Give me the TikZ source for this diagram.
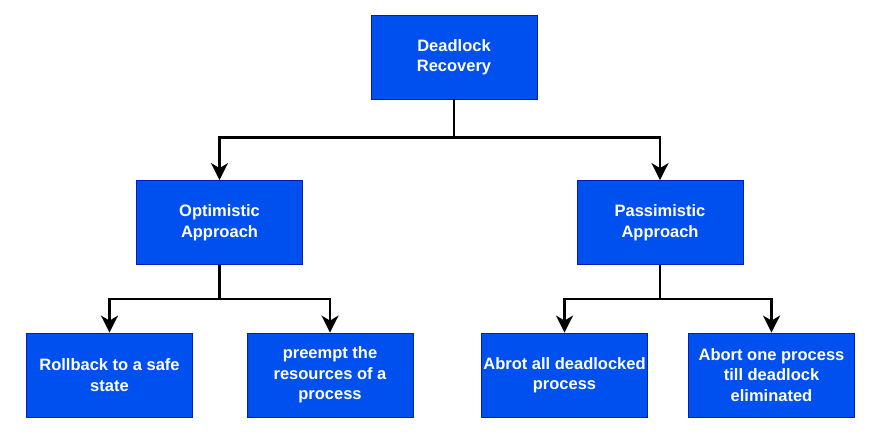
\documentclass[tikz,border=0pt]{standalone}
\usepackage{fontspec}
\setmainfont{Liberation Sans}
\usetikzlibrary{arrows.meta}
\definecolor{boxfill}{HTML}{0050EF}
\definecolor{boxline}{HTML}{001DBC}
\tikzset{
  box/.style={rectangle, draw=boxline, line width=0.8pt, fill=boxfill,
    minimum width=166pt, minimum height=84pt, inner sep=2pt,
    text=white, align=center,
    font=\fontsize{16.5}{20.5}\selectfont\bfseries},
  arr/.style={line width=2.6pt, -{Stealth[length=17pt, width=17pt, inset=5pt]}}
}
\begin{document}
\begin{tikzpicture}[x=1pt, y=-1pt]
\useasboundingbox (0,0) rectangle (890,437);
\node[box] (top) at (454,57) {Deadlock\\Recovery};
\node[box] (ml) at (219.5,222.5) {Optimistic\\Approach};
\node[box] (mr) at (660,222.5) {Passimistic\\Approach};
\node[box] (b1) at (109.5,375) {Rollback to a safe\\state};
\node[box] (b2) at (330,375) {preempt the\\resources of a\\process};
\node[box] (b3) at (564.5,375) {Abrot all deadlocked\\process};
\node[box] (b4) at (771.5,375) {Abort one process\\till deadlock\\eliminated};
\draw[arr] (top.south) -- ++(0,38) -| (ml.north);
\draw[arr] (top.south) -- ++(0,38) -| (mr.north);
\draw[arr] (ml.south) -- ++(0,34) -| (b1.north);
\draw[arr] (ml.south) -- ++(0,34) -| (b2.north);
\draw[arr] (mr.south) -- ++(0,34) -| (b3.north);
\draw[arr] (mr.south) -- ++(0,34) -| (b4.north);
\end{tikzpicture}
\end{document}
